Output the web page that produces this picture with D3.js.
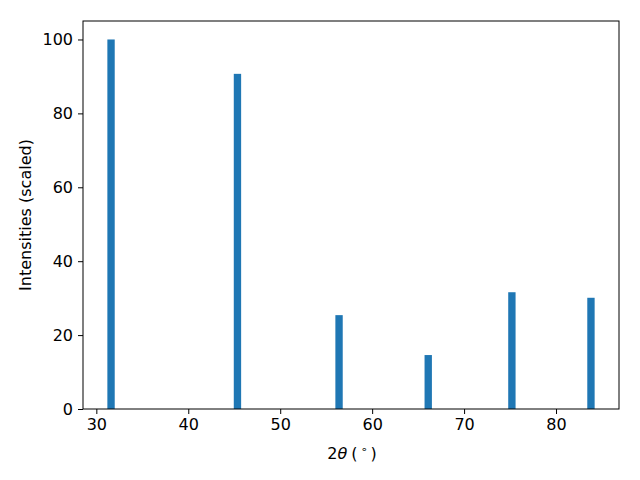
<!DOCTYPE html>
<html>
<head>
<meta charset="utf-8">
<script src="https://cdn.jsdelivr.net/npm/d3@7"></script>
<style>
  body { margin: 0; background: #fff; }
  svg { display: block; }
  text { font-family: "DejaVu Sans", sans-serif; }
</style>
</head>
<body>
<svg id="chart" width="640" height="480"></svg>
<script>
const twoTheta = [31.6, 45.35, 56.4, 66.1, 75.2, 83.8];
const intensities = [100, 90.7, 25.4, 14.6, 31.6, 30.1];
const barWidth = 0.8;
const xTicks = [30, 40, 50, 60, 70, 80];
const yTicks = [0, 20, 40, 60, 80, 100];

const svg = d3.select("#chart");
const L = 83, R = 619, T = 21, B = 409;

const dMin = d3.min(twoTheta) - barWidth / 2, dMax = d3.max(twoTheta) + barWidth / 2;
const pad = (dMax - dMin) * 0.05;
const x = d3.scaleLinear().domain([dMin - pad, dMax + pad]).range([L, R]);
const y = d3.scaleLinear().domain([0, d3.max(intensities) * 1.05]).range([B, T]);

svg.append("g").selectAll("rect").data(twoTheta).join("rect")
  .attr("x", d => x(d - barWidth / 2))
  .attr("width", d => x(d + barWidth / 2) - x(d - barWidth / 2))
  .attr("y", (d, i) => y(intensities[i]))
  .attr("height", (d, i) => y(0) - y(intensities[i]))
  .attr("fill", "#1f77b4");

const fs = 16;
const xAxis = svg.append("g").attr("transform", `translate(0,${B})`)
  .call(d3.axisBottom(x).tickValues(xTicks).tickSize(5).tickPadding(5).tickFormat(d3.format("d")));
const yAxis = svg.append("g").attr("transform", `translate(${L},0)`)
  .call(d3.axisLeft(y).tickValues(yTicks).tickSize(5).tickPadding(5).tickFormat(d3.format("d")));
[xAxis, yAxis].forEach(a => {
  a.select(".domain").remove();
  a.selectAll("line").attr("stroke", "#000").attr("stroke-width", 1);
  a.selectAll("text").attr("font-size", fs).attr("font-family", "DejaVu Sans").attr("fill", "#000");
});

svg.append("rect").attr("x", L).attr("y", T).attr("width", R - L).attr("height", B - T)
  .attr("fill", "none").attr("stroke", "#000").attr("stroke-width", 1);

const xl = svg.append("text").attr("x", (L + R) / 2 + 1).attr("y", 459)
  .attr("text-anchor", "middle").attr("font-size", fs);
xl.append("tspan").text("2");
xl.append("tspan").attr("font-style", "italic").text("θ");
xl.append("tspan").attr("dx", 4).text("(");
xl.append("tspan").attr("dx", 3).attr("font-size", 11).attr("dy", -6).text("∘");
xl.append("tspan").attr("dx", 3).attr("dy", 6).text(")");

svg.append("text").attr("transform", `translate(31,${(T + B) / 2}) rotate(-90)`)
  .attr("text-anchor", "middle").attr("font-size", fs).text("Intensities (scaled)");
</script>
</body>
</html>
